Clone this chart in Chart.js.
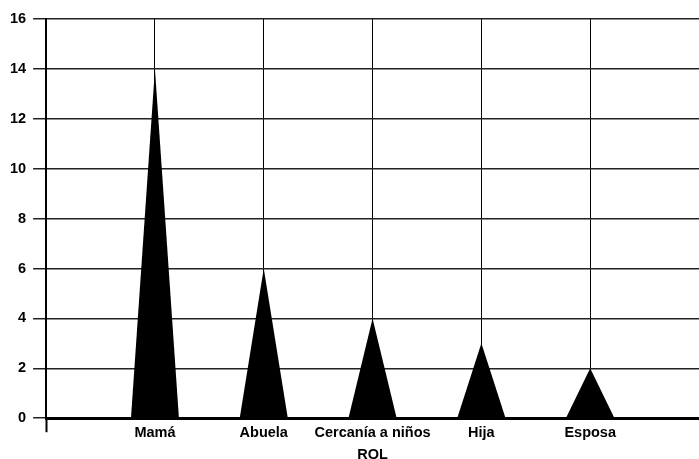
<!DOCTYPE html>
<html>
<head>
<meta charset="utf-8">
<script src="https://cdn.jsdelivr.net/npm/chart.js@4/dist/chart.umd.min.js"></script>
<style>
  body { margin: 0; background: #fff; }
  #wrap { width: 699px; height: 459px; }
</style>
</head>
<body>
<div id="wrap"><canvas id="myChart"></canvas></div>
<script>
// roles and counts
var categories = ['Mamá', 'Abuela', 'Cercanía a niños', 'Hija', 'Esposa'];
var counts = [14, 6, 4, 3, 2];
var yTicks = [0, 2, 4, 6, 8, 10, 12, 14, 16];
var xTitle = 'ROL';

// empty slot on each side so the roles sit inside the axis
var xLabels = [''].concat(categories, ['']);
var yValues = [null].concat(counts, [null]);

// draw each bar as a triangle (cone) instead of a rectangle
const trianglePlugin = {
  id: 'triangles',
  afterDatasetsDraw(chart) {
    const ctx = chart.ctx;
    const meta = chart.getDatasetMeta(0);
    ctx.save();
    ctx.fillStyle = '#000';
    meta.data.forEach((bar, i) => {
      if (yValues[i] == null) return;
      const p = bar.getProps(['x', 'y', 'base', 'width'], true);
      ctx.beginPath();
      ctx.moveTo(p.x - p.width / 2, p.base);
      ctx.lineTo(p.x, p.y);
      ctx.lineTo(p.x + p.width / 2, p.base);
      ctx.closePath();
      ctx.fill();
    });
    ctx.restore();
  }
};

const boldFont = { family: 'Liberation Sans, Arial, Helvetica, sans-serif', size: 14.5, weight: 'bold' };

new Chart('myChart', {
  type: 'bar',
  data: {
    labels: xLabels,
    datasets: [{
      data: yValues,
      backgroundColor: 'rgba(0,0,0,0)',
      borderWidth: 0,
      categoryPercentage: 1,
      barPercentage: 0.44
    }]
  },
  options: {
    responsive: true,
    maintainAspectRatio: false,
    animation: false,
    layout: { padding: { top: 19, left: 3, right: 0, bottom: -5 } },
    plugins: {
      legend: { display: false },
      tooltip: { enabled: false }
    },
    scales: {
      x: {
        offset: false,
        grid: {
          offset: false,
          color: (c) => c.index === xLabels.length - 1 ? 'rgba(0,0,0,0)' : '#000',
          tickColor: (c) => c.index === 0 ? '#000' : 'rgba(0,0,0,0)',
          lineWidth: 1,
          tickLength: 14,
          tickWidth: 2
        },
        border: { color: '#000', width: 3 },
        ticks: { color: '#000', font: boldFont, padding: -8, maxRotation: 0, autoSkip: false },
        title: { display: true, text: xTitle, color: '#000', font: boldFont, padding: { top: 13, bottom: 0 } }
      },
      y: {
        min: 0,
        max: 16,
        afterBuildTicks: (axis) => { axis.ticks = yTicks.map(v => ({ value: v })); },
        grid: { color: '#222', lineWidth: 1.5, tickLength: 13 },
        border: { color: '#000', width: 2 },
        ticks: { color: '#000', font: boldFont, padding: 7 }
      }
    }
  },
  plugins: [trianglePlugin]
});
</script>
</body>
</html>
